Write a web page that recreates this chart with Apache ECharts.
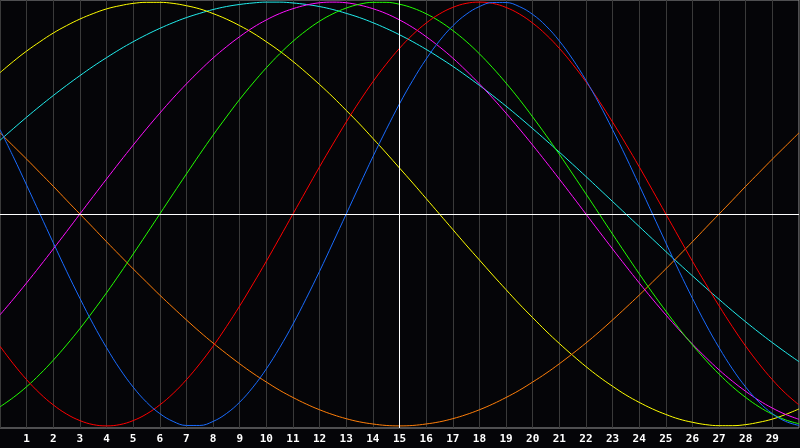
<!DOCTYPE html>
<html>
<head>
<meta charset="utf-8">
<script src="https://cdn.jsdelivr.net/npm/echarts@6/dist/echarts.min.js"></script>
<style>
html,body{margin:0;padding:0;background:#050508;}
#chart{width:800px;height:448px;}
</style>
</head>
<body>
<div id="chart"></div>
<script>
var days = [0,0.5,1,1.5,2,2.5,3,3.5,4,4.5,5,5.5,6,6.5,7,7.5,8,8.5,9,9.5,10,10.5,11,11.5,12,12.5,13,13.5,14,14.5,15,15.5,16,16.5,17,17.5,18,18.5,19,19.5,20,20.5,21,21.5,22,22.5,23,23.5,24,24.5,25,25.5,26,26.5,27,27.5,28,28.5,29,29.5,30];
var tickLabels = ['1','2','3','4','5','6','7','8','9','10','11','12','13','14','15','16','17','18','19','20','21','22','23','24','25','26','27','28','29'];

var blueVals = [0.398,0.270,0.136,0,-0.136,-0.270,-0.398,-0.520,-0.631,-0.731,-0.817,-0.888,-0.942,-0.979,-0.998,-0.998,-0.979,-0.942,-0.888,-0.817,-0.731,-0.631,-0.520,-0.398,-0.270,-0.136,0,0.136,0.270,0.398,0.520,0.631,0.731,0.817,0.888,0.942,0.979,0.998,0.998,0.979,0.942,0.888,0.817,0.731,0.631,0.520,0.398,0.270,0.136,0,-0.136,-0.270,-0.398,-0.520,-0.631,-0.731,-0.817,-0.888,-0.942,-0.979,-0.998];
var redVals = [-0.624,-0.707,-0.782,-0.847,-0.901,-0.944,-0.975,-0.994,-1.0,-0.994,-0.975,-0.944,-0.901,-0.847,-0.782,-0.707,-0.624,-0.532,-0.434,-0.330,-0.223,-0.112,0,0.112,0.223,0.330,0.434,0.532,0.624,0.707,0.782,0.847,0.901,0.944,0.975,0.994,1.0,0.994,0.975,0.944,0.901,0.847,0.782,0.707,0.624,0.532,0.434,0.330,0.223,0.112,0,-0.112,-0.223,-0.330,-0.434,-0.532,-0.624,-0.707,-0.782,-0.847,-0.901];
var greenVals = [-0.910,-0.866,-0.815,-0.756,-0.690,-0.618,-0.541,-0.458,-0.372,-0.282,-0.189,-0.095,0,0.095,0.189,0.282,0.372,0.458,0.541,0.618,0.690,0.756,0.815,0.866,0.910,0.945,0.972,0.990,0.999,0.999,0.990,0.972,0.945,0.910,0.866,0.815,0.756,0.690,0.618,0.541,0.458,0.372,0.282,0.189,0.095,0,-0.095,-0.189,-0.282,-0.372,-0.458,-0.541,-0.618,-0.690,-0.756,-0.815,-0.866,-0.910,-0.945,-0.972,-0.990];
var magentaVals = [-0.476,-0.402,-0.325,-0.246,-0.165,-0.083,0,0.083,0.165,0.246,0.325,0.402,0.476,0.547,0.614,0.677,0.736,0.789,0.837,0.880,0.916,0.946,0.969,0.986,0.997,1.0,0.997,0.986,0.969,0.946,0.916,0.880,0.837,0.789,0.736,0.677,0.614,0.547,0.476,0.402,0.325,0.246,0.165,0.083,0,-0.083,-0.165,-0.246,-0.325,-0.402,-0.476,-0.547,-0.614,-0.677,-0.736,-0.789,-0.837,-0.880,-0.916,-0.946,-0.969];
var yellowVals = [0.667,0.720,0.769,0.813,0.854,0.889,0.920,0.946,0.968,0.983,0.994,0.999,0.999,0.994,0.983,0.968,0.946,0.920,0.889,0.854,0.813,0.769,0.720,0.667,0.611,0.552,0.489,0.425,0.357,0.288,0.217,0.146,0.073,0,-0.073,-0.146,-0.217,-0.288,-0.357,-0.425,-0.489,-0.552,-0.611,-0.667,-0.720,-0.769,-0.813,-0.854,-0.889,-0.920,-0.946,-0.968,-0.983,-0.994,-0.999,-0.999,-0.994,-0.983,-0.968,-0.946,-0.920];
var cyanVals = [0.348,0.403,0.457,0.509,0.559,0.607,0.653,0.697,0.738,0.777,0.813,0.846,0.876,0.903,0.927,0.947,0.965,0.979,0.989,0.996,1.0,1.0,0.996,0.989,0.979,0.965,0.947,0.927,0.903,0.876,0.846,0.813,0.777,0.738,0.697,0.653,0.607,0.559,0.509,0.457,0.403,0.348,0.292,0.235,0.177,0.118,0.059,0,-0.059,-0.118,-0.177,-0.235,-0.292,-0.348,-0.403,-0.457,-0.509,-0.559,-0.607,-0.653,-0.697];
var orangeVals = [0.383,0.321,0.259,0.195,0.131,0.065,0,-0.065,-0.131,-0.195,-0.259,-0.321,-0.383,-0.442,-0.5,-0.556,-0.609,-0.659,-0.707,-0.752,-0.793,-0.832,-0.866,-0.897,-0.924,-0.947,-0.966,-0.981,-0.991,-0.998,-1.0,-0.998,-0.991,-0.981,-0.966,-0.947,-0.924,-0.897,-0.866,-0.832,-0.793,-0.752,-0.707,-0.659,-0.609,-0.556,-0.5,-0.442,-0.383,-0.321,-0.259,-0.195,-0.131,-0.065,0,0.065,0.131,0.195,0.259,0.321,0.383];

function pairs(vals){ return days.map(function(d,i){ return [d, vals[i]]; }); }

var seriesDefs = [
  {name:'cyan', vals:cyanVals, color:'#22eeee'},
  {name:'yellow', vals:yellowVals, color:'#ffff00'},
  {name:'orange', vals:orangeVals, color:'#ff7f0a'},
  {name:'magenta', vals:magentaVals, color:'#ff11ff'},
  {name:'green', vals:greenVals, color:'#22ff00'},
  {name:'red', vals:redVals, color:'#ff0000'},
  {name:'blue', vals:blueVals, color:'#1a6cff'}
];

var series = [{
  type:'line', data:[], silent:true,
  markLine:{
    silent:true, symbol:'none', label:{show:false},
    lineStyle:{color:'#ffffff', width:1, type:'solid'},
    data:[{xAxis:15},{yAxis:0}]
  }
}];
seriesDefs.forEach(function(s){
  series.push({
    name:s.name, type:'line', data:pairs(s.vals), smooth:0.4, showSymbol:false,
    lineStyle:{color:s.color, width:1}, itemStyle:{color:s.color}, z:3
  });
});

var chart = echarts.init(document.getElementById('chart'));
chart.setOption({
  backgroundColor:'#050508',
  animation:false,
  grid:{left:0, right:1, top:0, bottom:20, show:true, borderColor:'#9a9a9a', borderWidth:1, backgroundColor:'#050508'},
  xAxis:{
    type:'value', min:0, max:30, interval:1,
    axisLine:{show:false}, axisTick:{show:false},
    axisLabel:{
      showMinLabel:false, showMaxLabel:false, color:'#ffffff', fontFamily:'DejaVu Sans Mono', fontWeight:'bold', fontSize:11, margin:6,
      formatter:function(v){ return (v>=1 && v<=29) ? tickLabels[v-1] : ''; }
    },
    splitLine:{show:true, lineStyle:{color:'#3a3a3a', width:1}}
  },
  yAxis:{
    type:'value', min:-1.01, max:1.01,
    axisLine:{show:false}, axisTick:{show:false}, axisLabel:{show:false}, splitLine:{show:false}
  },
  series:series
});
</script>
</body>
</html>
